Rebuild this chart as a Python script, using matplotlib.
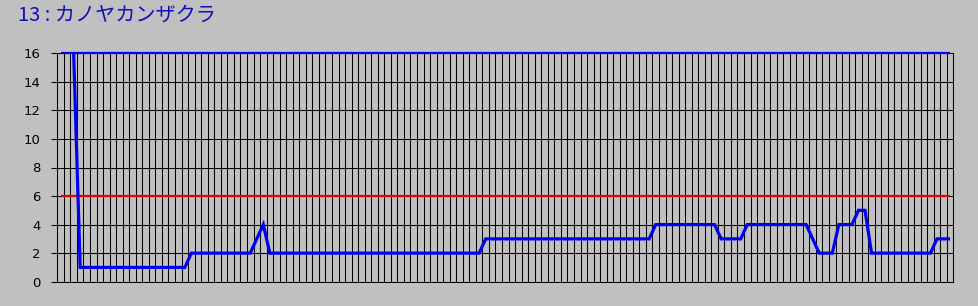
import numpy as np
import matplotlib
matplotlib.use("Agg")
import matplotlib.pyplot as plt

title = "13 : カノヤカンザクラ"
n_cells = 137
y_ticks = [0, 2, 4, 6, 8, 10, 12, 14, 16]
upper_value = 16
limit_value = 6

# (value, count) runs; first two cells have no data
runs = [(np.nan, 2), (16, 1), (1, 17), (2, 10), (3, 1), (4, 1), (2, 33),
        (3, 26), (4, 10), (3, 4), (4, 10), (3, 1), (2, 3), (4, 3), (5, 2),
        (2, 10), (3, 3)]
values = []
for v, c in runs:
    values += [v] * c
values = np.array(values, dtype=float)

bg = "#c0c0c0"
fig = plt.figure(figsize=(9.79, 3.06), dpi=100, facecolor=bg)
ax = fig.add_axes([57.3 / 979, 24.3 / 306, (953.3 - 57.3) / 979, (281.7 - 53.3) / 306])
ax.set_facecolor(bg)

x = np.arange(n_cells) + 0.5
ax.set_xlim(0, n_cells)
ax.set_ylim(0, 16)

gw = 0.75
for xv in range(n_cells + 1):
    ax.axvline(xv, color="black", lw=gw, zorder=1)
for yv in y_ticks:
    ax.axhline(yv, color="black", lw=gw, zorder=1)

ax.plot(x, np.full(n_cells, upper_value), color="#0000f0", lw=1.6, zorder=3, clip_on=False,
        solid_capstyle="butt")
ax.plot(x, np.full(n_cells, limit_value), color="#ee0000", lw=1.6, zorder=3,
        solid_capstyle="butt")
ax.plot(x, values, color="#0000f0", lw=2.3, zorder=4, solid_joinstyle="miter",
        solid_capstyle="butt")

ax.set_yticks(y_ticks)
ax.set_yticklabels([str(t) for t in y_ticks], fontsize=9.5, family="DejaVu Sans")
ax.set_xticks([])
ax.tick_params(axis="y", length=4, width=gw, color="black", pad=8)
for s in ["left", "bottom", "right", "top"]:
    ax.spines[s].set_color("black")
    ax.spines[s].set_linewidth(gw)
ax.spines["top"].set_visible(False)

fig.text(18 / 979, 1 - 15 / 306, title, color="#1010b8", fontsize=14.5,
         family=["Noto Sans CJK JP", "DejaVu Sans"], va="center", ha="left")

fig.savefig("out.png", dpi=100, facecolor=bg)
